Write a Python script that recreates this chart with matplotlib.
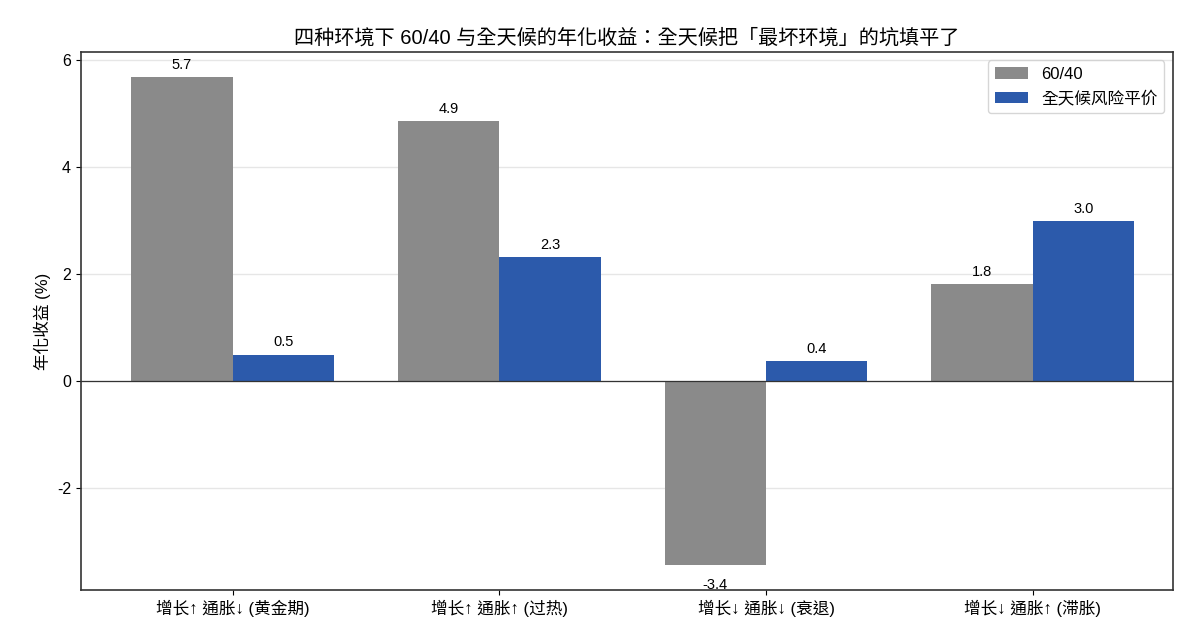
import numpy as np
import matplotlib.pyplot as plt

plt.rcParams['font.family'] = ['Liberation Sans', 'Noto Sans CJK TC', 'DejaVu Sans']
plt.rcParams['axes.unicode_minus'] = False

# 四种环境
regimes = ['增长↑ 通胀↓ (黄金期)', '增长↑ 通胀↑ (过热)', '增长↓ 通胀↓ (衰退)', '增长↓ 通胀↑ (滞胀)']
# 年化收益 (%)
ret_6040 = [5.68, 4.86, -3.44, 1.81]
ret_allweather = [0.49, 2.32, 0.37, 2.99]

x = np.arange(len(regimes))
w = 0.38

fig, ax = plt.subplots(figsize=(12.04, 6.44), dpi=100)
fig.subplots_adjust(left=0.067, right=0.974, top=0.919, bottom=0.084)

b1 = ax.bar(x - w / 2, ret_6040, w, color='#8a8a8a', label='60/40', zorder=2)
b2 = ax.bar(x + w / 2, ret_allweather, w, color='#2c5aab', label='全天候风险平价', zorder=2)

for bars in (b1, b2):
    for b in bars:
        h = b.get_height()
        if h >= 0:
            ax.annotate(f'{h:.1f}', (b.get_x() + b.get_width() / 2, h), xytext=(0, 4),
                        textcoords='offset points', ha='center', va='bottom', fontsize=10.5)
        else:
            ax.annotate(f'{h:.1f}', (b.get_x() + b.get_width() / 2, h), xytext=(0, -9),
                        textcoords='offset points', ha='center', va='top', fontsize=10.5)

ax.axhline(0, color='#333333', lw=0.9, zorder=3)
ax.yaxis.grid(True, color='#e6e6e6', lw=1, zorder=0)
ax.set_axisbelow(True)

ax.set_xticks(x)
ax.set_xticklabels(regimes, fontsize=12)
ax.set_yticks([-2, 0, 2, 4, 6])
ax.tick_params(axis='y', labelsize=11.5)
ax.set_xlim(-0.57, 3.525)
ax.set_ylim(-3.9, 6.15)
ax.set_ylabel('年化收益 (%)', fontsize=12)
ax.set_title('四种环境下 60/40 与全天候的年化收益：全天候把「最坏环境」的坑填平了', fontsize=14.5)

for s in ax.spines.values():
    s.set_color('#333333')
    s.set_linewidth(1.2)

ax.legend(loc='upper right', fontsize=12)

plt.savefig('out.png', dpi=100)
